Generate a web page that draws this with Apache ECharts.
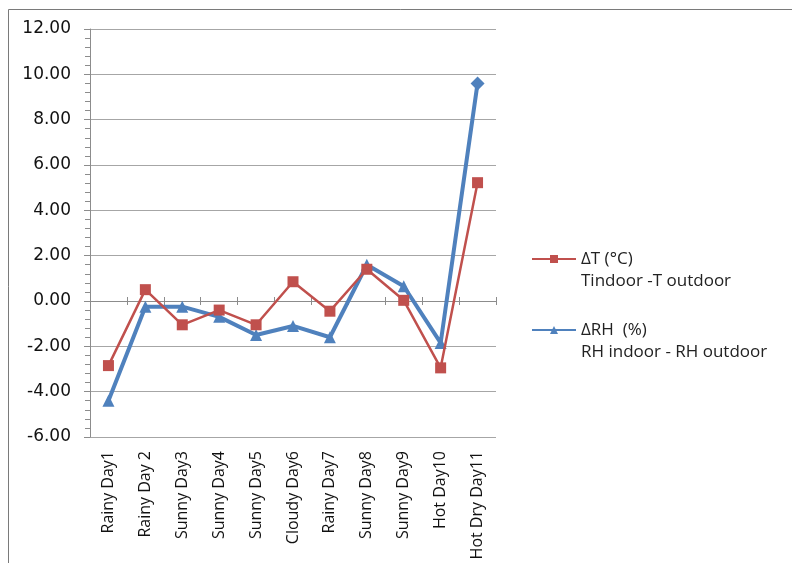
<!DOCTYPE html>
<html>
<head>
<meta charset="utf-8">
<script src="https://cdn.jsdelivr.net/npm/echarts@6/dist/echarts.min.js"></script>
<style>
  html, body { margin: 0; padding: 0; background: #fff; }
  #chart { width: 792px; height: 563px; }
</style>
</head>
<body>
<div id="chart"></div>
<script>
// Day labels along the category axis
const days = ['Rainy Day1', 'Rainy Day 2', 'Sunny Day3', 'Sunny Day4', 'Sunny Day5',
  'Cloudy Day6', 'Rainy Day7', 'Sunny Day8', 'Sunny Day9', 'Hot Day10', 'Hot Dry Day11'];

// Indoor minus outdoor temperature difference (°C)
const deltaT = [-2.85, 0.5, -1.05, -0.4, -1.05, 0.85, -0.45, 1.4, 0.03, -2.95, 5.22];

// Indoor minus outdoor relative humidity difference (%)
const deltaRH = [-4.4, -0.25, -0.25, -0.7, -1.5, -1.1, -1.6, 1.6, 0.65, -1.85, 9.6];

// Series names shown in the legend
const nameT = 'ΔT (°C)';
const nameRH = 'ΔRH  (%)';
const subT = 'Tindoor -T outdoor';
const subRH = 'RH indoor - RH outdoor';

const RED = '#C0504D';
const BLUE = '#4F81BD';
const AXIS = '#8c8c8c';

const chart = echarts.init(document.getElementById('chart'));

const rhData = deltaRH.map((v, i) => i === deltaRH.length - 1
  ? { value: v, symbol: 'diamond', symbolSize: 14 }
  : v);

chart.setOption({
  animation: false,
  backgroundColor: '#fff',
  textStyle: { fontFamily: 'Open Sans' },
  graphic: [{
    type: 'rect',
    shape: { x: 8.5, y: 9.5, width: 800, height: 600 },
    style: { fill: 'none', stroke: '#7a7a7a', lineWidth: 1 },
    silent: true
  }],
  grid: { left: 90, right: 296, top: 29, bottom: 126 },
  legend: {
    orient: 'vertical',
    left: 526,
    top: 221,
    itemGap: 5,
    itemWidth: 44,
    itemHeight: 10,
    data: [nameT, nameRH],
    formatter: n => n === nameT ? '\n' + n + '\n' + subT : '\n' + n + '\n' + subRH,
    textStyle: { fontFamily: 'Open Sans', fontSize: 17, color: '#222', lineHeight: 22 }
  },
  xAxis: [{
    type: 'category',
    data: days,
    boundaryGap: true,
    axisLine: { onZero: true, onZeroAxisIndex: 0, lineStyle: { color: AXIS, width: 1 } },
    axisTick: { show: true, length: 4, inside: false, interval: 0, lineStyle: { color: AXIS } },
    axisLabel: { show: false },
    splitLine: { show: false }
  }, {
    type: 'category',
    data: days,
    boundaryGap: true,
    position: 'bottom',
    axisLine: { show: false, onZero: false },
    axisTick: { show: false },
    axisLabel: {
      rotate: 90, margin: 14, fontSize: 16, color: '#111', fontFamily: 'Open Sans',
      interval: 0
    },
    splitLine: { show: false }
  }, {
    type: 'category',
    data: days,
    boundaryGap: true,
    position: 'bottom',
    axisLine: { show: true, onZero: true, onZeroAxisIndex: 1, lineStyle: { color: AXIS, opacity: 0 } },
    axisTick: { show: true, length: 4, inside: true, interval: 0, lineStyle: { color: AXIS } },
    axisLabel: { show: false },
    splitLine: { show: false }
  }],
  yAxis: [{
    type: 'value',
    min: -6, max: 12, interval: 2,
    axisLine: { show: true, lineStyle: { color: AXIS, width: 1 } },
    axisTick: { show: true, length: 6, lineStyle: { color: AXIS } },
    minorTick: { show: true, splitNumber: 5, length: 5, lineStyle: { color: AXIS } },
    axisLabel: {
      formatter: v => v.toFixed(2), fontSize: 17, color: '#111',
      fontFamily: 'DejaVu Sans', margin: 19
    },
    splitLine: { show: true, lineStyle: { color: '#a6a6a6', width: 1 } }
  }, {
    type: 'value',
    position: 'left',
    min: -6, max: 12, interval: 2,
    axisLine: { show: false },
    axisTick: { show: false },
    minorTick: { show: true, splitNumber: 5, length: 5, lineStyle: { color: AXIS } },
    axisLabel: { show: false },
    splitLine: { show: false }
  }],
  series: [{
    name: nameT,
    type: 'line',
    data: deltaT,
    color: RED,
    symbol: 'rect',
    symbolSize: 11,
    lineStyle: { color: RED, width: 2.5 },
    itemStyle: { color: RED }
  }, {
    name: nameRH,
    type: 'line',
    data: rhData,
    color: BLUE,
    symbol: 'triangle',
    symbolSize: 12,
    lineStyle: { color: BLUE, width: 4 },
    itemStyle: { color: BLUE },
    z: 1
  }]
});
</script>
</body>
</html>
